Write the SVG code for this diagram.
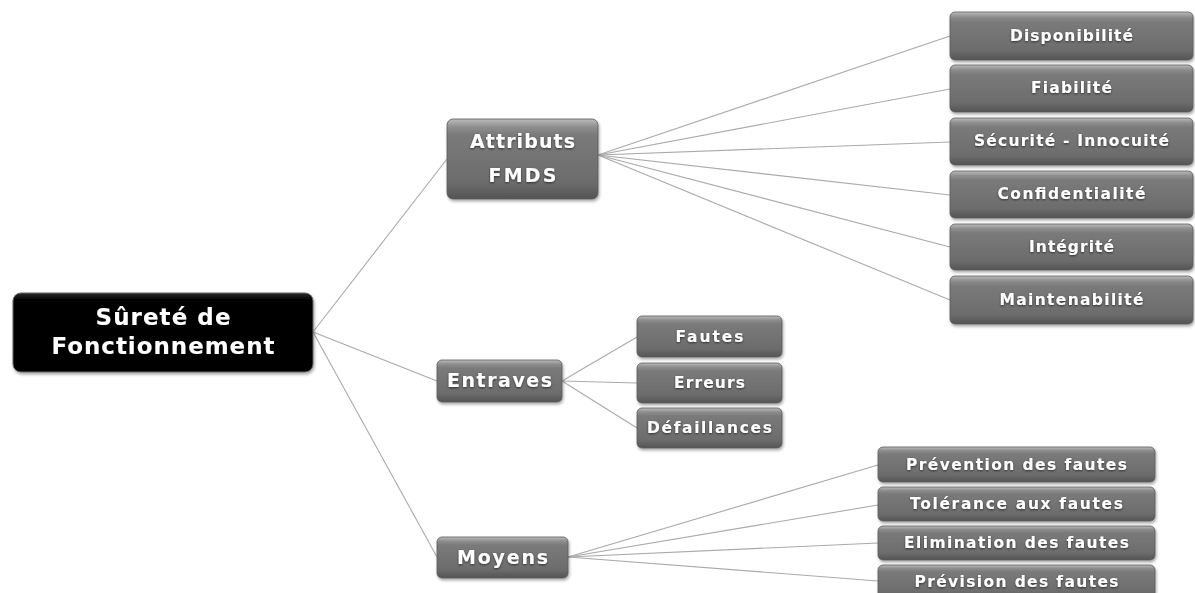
<svg xmlns="http://www.w3.org/2000/svg" width="1195" height="593" viewBox="0 0 1195 593">
  <defs>
    <linearGradient id="gBox" x1="0" y1="0" x2="0" y2="1">
      <stop offset="0" stop-color="#bcbcbc"/>
      <stop offset="0.1" stop-color="#8e8e8e"/>
      <stop offset="0.2" stop-color="#7a7a7a"/>
      <stop offset="0.8" stop-color="#6c6c6c"/>
      <stop offset="1" stop-color="#545454"/>
    </linearGradient>
    <linearGradient id="gRoot" x1="0" y1="0" x2="0" y2="1">
      <stop offset="0" stop-color="#2a2a2a"/>
      <stop offset="0.08" stop-color="#050505"/>
      <stop offset="1" stop-color="#000"/>
    </linearGradient>
    <filter id="shadow" x="-10%" y="-20%" width="120%" height="150%">
      <feDropShadow dx="1" dy="2" stdDeviation="1.5" flood-color="#000" flood-opacity="0.35"/>
    </filter>
    <filter id="tshadow" x="-5%" y="-20%" width="110%" height="150%">
      <feDropShadow dx="0" dy="1" stdDeviation="0.8" flood-color="#000" flood-opacity="0.6"/>
    </filter>
  </defs>
  <style>
    .box { fill: url(#gBox); stroke: #5a5a5a; stroke-width: 0.8; filter: url(#shadow); }
    .root { fill: url(#gRoot); stroke: #666; stroke-width: 1; filter: url(#shadow); }
    .lbl { font-family: "DejaVu Sans", "Liberation Sans", sans-serif; font-weight: bold; fill: #ffffff; text-anchor: middle; filter: url(#tshadow); }
    .s15 { font-size: 15.5px; }
    .s18 { font-size: 19px; }
    .s22 { font-size: 23px; }
    .conn line { stroke: #aaaaaa; stroke-width: 1.1; fill: none; }
  </style>

  <rect width="1195" height="593" fill="#ffffff"/>

  <!-- connectors -->
  <g id="connectors" class="conn">
    <line x1="313" y1="332" x2="447" y2="159"/>
    <line x1="313" y1="332" x2="437" y2="381"/>
    <line x1="313" y1="332" x2="437" y2="557"/>

    <line x1="598" y1="155" x2="950" y2="36"/>
    <line x1="598" y1="155" x2="950" y2="89"/>
    <line x1="598" y1="155" x2="950" y2="142"/>
    <line x1="598" y1="155" x2="950" y2="195"/>
    <line x1="598" y1="155" x2="950" y2="247"/>
    <line x1="598" y1="155" x2="950" y2="300"/>

    <line x1="562" y1="381" x2="637" y2="337"/>
    <line x1="562" y1="381" x2="637" y2="383"/>
    <line x1="562" y1="381" x2="637" y2="428"/>

    <line x1="568" y1="557" x2="878" y2="465"/>
    <line x1="568" y1="557" x2="878" y2="505"/>
    <line x1="568" y1="557" x2="878" y2="543"/>
    <line x1="568" y1="557" x2="878" y2="581"/>
  </g>

  <!-- root -->
  <g id="node-surete">
    <rect class="root" x="13" y="293" width="300" height="79" rx="8"/>
    <text class="lbl s22" x="163" y="325" textLength="135" lengthAdjust="spacing">Sûreté de</text>
    <text class="lbl s22" x="163" y="354" textLength="223" lengthAdjust="spacing">Fonctionnement</text>
  </g>

  <!-- level 1 -->
  <g id="node-attributs">
    <rect class="box" x="447" y="119" width="151" height="80" rx="6"/>
    <text class="lbl s18" x="522.5" y="148" textLength="105" lengthAdjust="spacing">Attributs</text>
    <text class="lbl s18" x="522.5" y="182" textLength="68" lengthAdjust="spacing">FMDS</text>
  </g>
  <g id="node-entraves">
    <rect class="box" x="437" y="360" width="125" height="42" rx="5"/>
    <text class="lbl s18" x="499.5" y="387" textLength="105" lengthAdjust="spacing">Entraves</text>
  </g>
  <g id="node-moyens">
    <rect class="box" x="437" y="537" width="131" height="41" rx="5"/>
    <text class="lbl s18" x="502.5" y="564" textLength="91" lengthAdjust="spacing">Moyens</text>
  </g>

  <!-- attributs -->
  <g id="node-disponibilite">
    <rect class="box" x="950" y="12" width="243" height="48" rx="5"/>
    <text class="lbl s15" x="1071.5" y="41" textLength="123" lengthAdjust="spacing">Disponibilité</text>
  </g>
  <g id="node-fiabilite">
    <rect class="box" x="950" y="65" width="243" height="47" rx="5"/>
    <text class="lbl s15" x="1071.5" y="93" textLength="81" lengthAdjust="spacing">Fiabilité</text>
  </g>
  <g id="node-securite">
    <rect class="box" x="950" y="118" width="243" height="47" rx="5"/>
    <text class="lbl s15" x="1071.5" y="146" textLength="195" lengthAdjust="spacing">Sécurité - Innocuité</text>
  </g>
  <g id="node-confidentialite">
    <rect class="box" x="950" y="171" width="243" height="47" rx="5"/>
    <text class="lbl s15" x="1071.5" y="199" textLength="148" lengthAdjust="spacing">Confidentialité</text>
  </g>
  <g id="node-integrite">
    <rect class="box" x="950" y="224" width="243" height="46" rx="5"/>
    <text class="lbl s15" x="1071.5" y="252" textLength="85" lengthAdjust="spacing">Intégrité</text>
  </g>
  <g id="node-maintenabilite">
    <rect class="box" x="950" y="276" width="243" height="48" rx="5"/>
    <text class="lbl s15" x="1071.5" y="305" textLength="144" lengthAdjust="spacing">Maintenabilité</text>
  </g>

  <!-- entraves -->
  <g id="node-fautes">
    <rect class="box" x="637" y="316" width="145" height="41" rx="5"/>
    <text class="lbl s15" x="709.5" y="342" textLength="68" lengthAdjust="spacing">Fautes</text>
  </g>
  <g id="node-erreurs">
    <rect class="box" x="637" y="363" width="145" height="40" rx="5"/>
    <text class="lbl s15" x="709.5" y="388" textLength="71" lengthAdjust="spacing">Erreurs</text>
  </g>
  <g id="node-defaillances">
    <rect class="box" x="637" y="408" width="145" height="40" rx="5"/>
    <text class="lbl s15" x="709.5" y="433" textLength="125" lengthAdjust="spacing">Défaillances</text>
  </g>

  <!-- moyens -->
  <g id="node-prevention">
    <rect class="box" x="878" y="447" width="277" height="35" rx="5"/>
    <text class="lbl s15" x="1016.5" y="470" textLength="221" lengthAdjust="spacing">Prévention des fautes</text>
  </g>
  <g id="node-tolerance">
    <rect class="box" x="878" y="487" width="277" height="34" rx="5"/>
    <text class="lbl s15" x="1016.5" y="509" textLength="213" lengthAdjust="spacing">Tolérance aux fautes</text>
  </g>
  <g id="node-elimination">
    <rect class="box" x="878" y="526" width="277" height="34" rx="5"/>
    <text class="lbl s15" x="1016.5" y="548" textLength="225" lengthAdjust="spacing">Elimination des fautes</text>
  </g>
  <g id="node-prevision">
    <rect class="box" x="878" y="565" width="277" height="34" rx="5"/>
    <text class="lbl s15" x="1016.5" y="587" textLength="204" lengthAdjust="spacing">Prévision des fautes</text>
  </g>
</svg>
